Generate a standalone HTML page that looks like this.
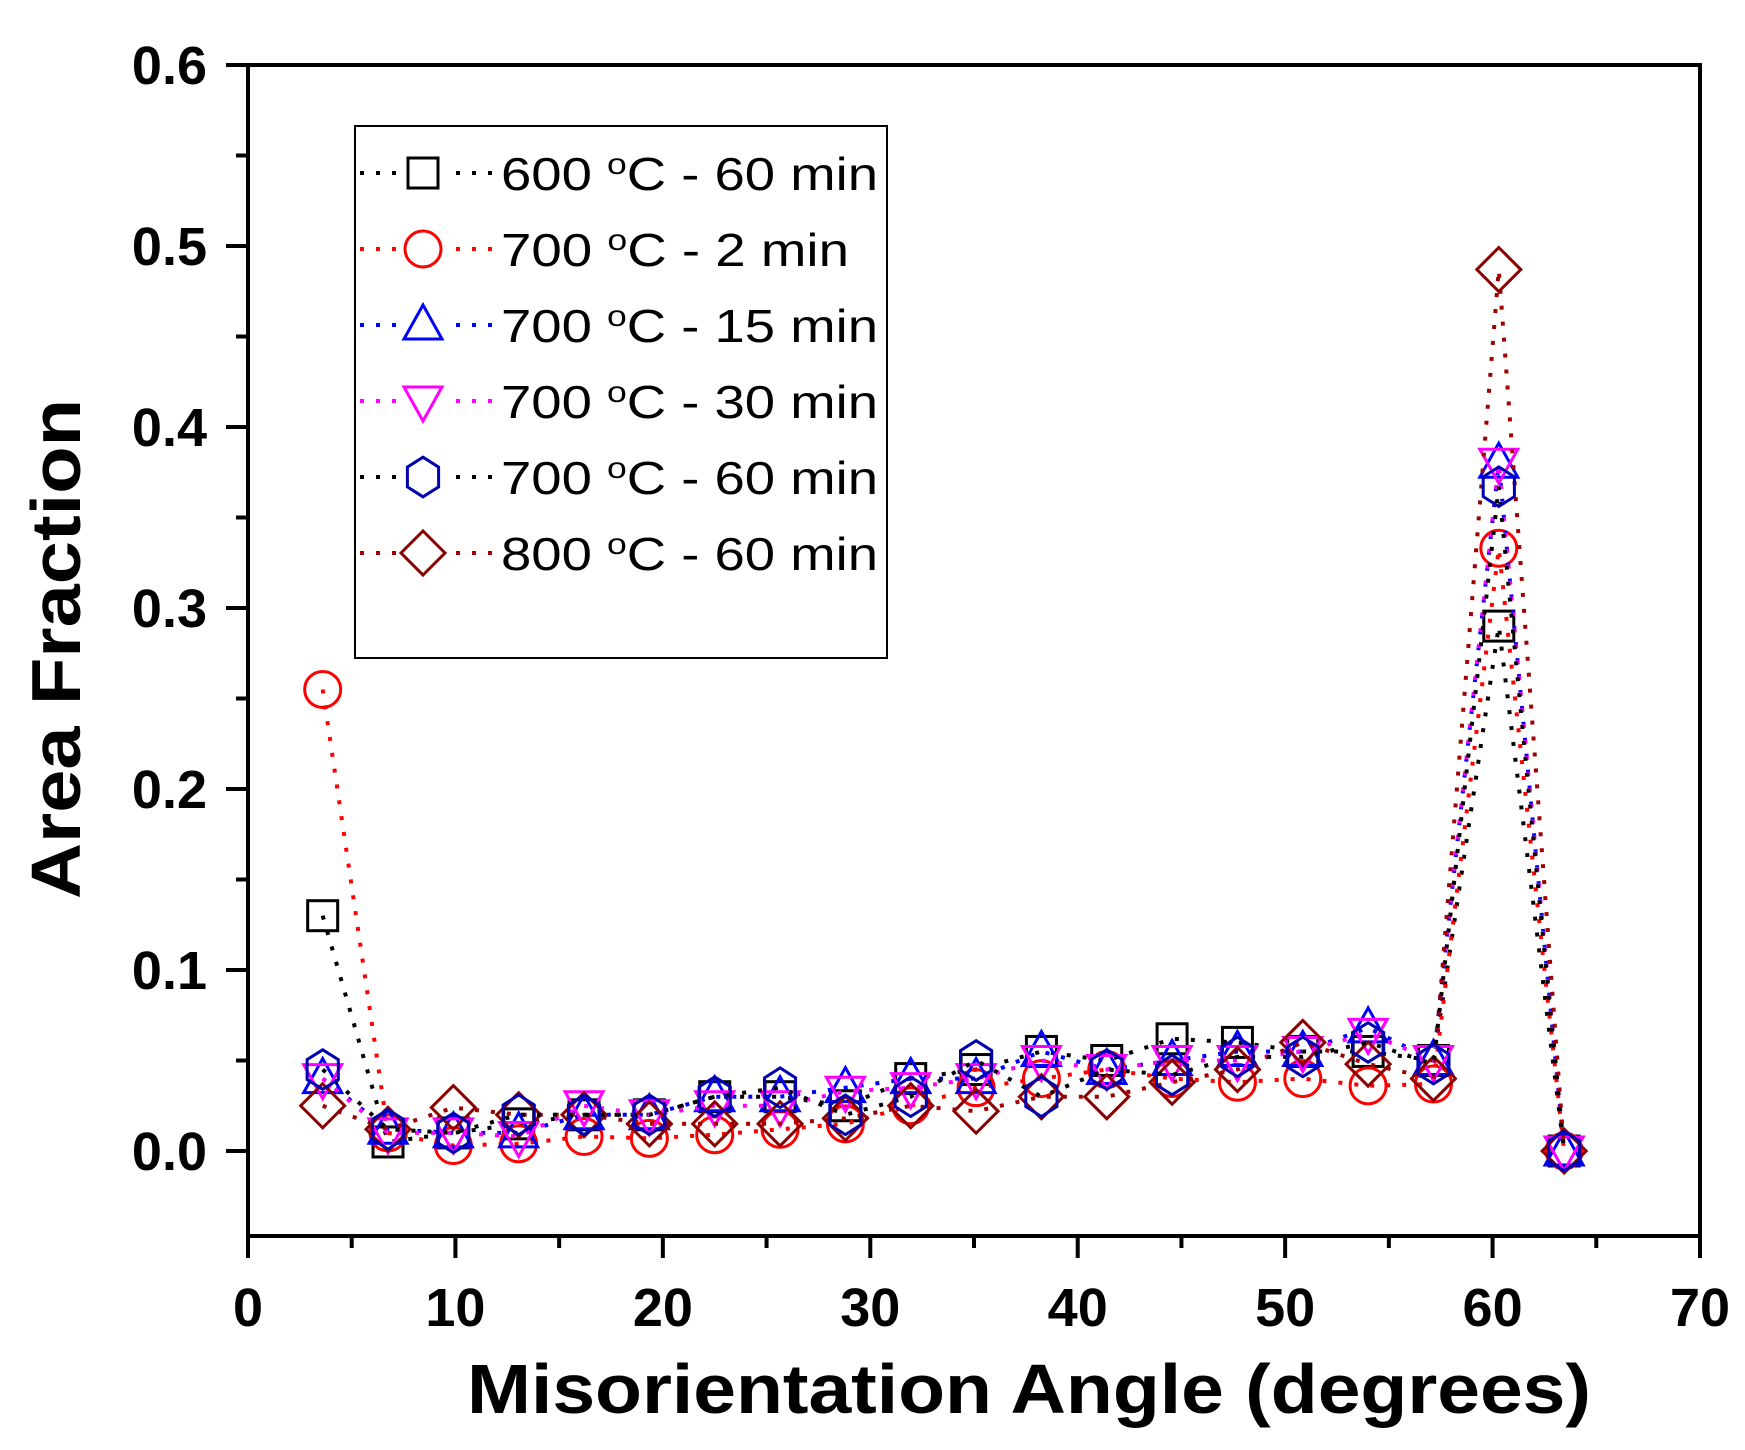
<!DOCTYPE html>
<html><head><meta charset="utf-8"><style>
html,body{margin:0;padding:0;background:#fff;}
svg{display:block;font-family:"Liberation Sans",Arial,sans-serif;}
</style></head><body>
<svg id="chart" width="1745" height="1450" viewBox="0 0 1745 1450" xmlns="http://www.w3.org/2000/svg">
<g id="plot"></g>
</svg>
<script>
const xCenters = [3.6,6.75,9.9,13.05,16.2,19.35,22.5,25.65,28.8,31.95,35.1,38.25,41.4,44.55,47.7,50.85,54.0,57.15,60.3,63.45];
const s600_60 = [0.13,0.005,0.01,0.015,0.02,0.02,0.03,0.03,0.025,0.04,0.045,0.055,0.05,0.062,0.06,0.055,0.055,0.05,0.29,0.0];
const s700_2 = [0.255,0.01,0.003,0.004,0.008,0.007,0.009,0.012,0.015,0.025,0.035,0.04,0.045,0.04,0.038,0.04,0.036,0.037,0.333,0.0];
const s700_15 = [0.04,0.012,0.01,0.01,0.02,0.02,0.03,0.03,0.035,0.04,0.04,0.055,0.045,0.05,0.055,0.055,0.068,0.05,0.38,0.0];
const s700_30 = [0.04,0.01,0.01,0.008,0.025,0.02,0.025,0.025,0.033,0.035,0.04,0.05,0.045,0.05,0.05,0.055,0.065,0.05,0.38,0.0];
const s700_60 = [0.045,0.012,0.01,0.02,0.02,0.02,0.03,0.035,0.02,0.03,0.05,0.03,0.045,0.042,0.052,0.052,0.06,0.048,0.367,0.0];
const s800_60 = [0.025,0.012,0.024,0.02,0.02,0.015,0.015,0.015,0.018,0.025,0.022,0.03,0.03,0.038,0.045,0.06,0.048,0.04,0.487,0.0];
const xTicks = [0,10,20,30,40,50,60,70];
const yTicks = [0.0,0.1,0.2,0.3,0.4,0.5,0.6];

const NS="http://www.w3.org/2000/svg";
const L=248,R=1700,T=65,B=1236;
const xMin=0,xMax=70,y0px=1151,yPer=1810;
function X(v){return L+(v-xMin)/(xMax-xMin)*(R-L);}
function Y(v){return y0px-v*yPer;}
const g=document.getElementById('plot');
function el(tag,attrs,parent){const e=document.createElementNS(NS,tag);for(const k in attrs)e.setAttribute(k,attrs[k]);(parent||g).appendChild(e);return e;}

const frame=el('rect',{x:L,y:T,width:R-L,height:B-T,fill:'none',stroke:'#000','stroke-width':4});



for(let i=0;i<=13;i++){
  const v=-0.05+i*0.05; if(v<-0.04) continue;
  const major=Math.abs(Math.round(v*10)-v*10)<1e-6;
  const t=el('line',{x1:L,x2:L-(major?22:12),y1:Y(v),y2:Y(v),stroke:'#000','stroke-width':4});
  
  
}
yTicks.forEach(v=>{
  const t=el('text',{x:207,y:Y(v)+19,'text-anchor':'end','font-size':54,'font-weight':'bold'});
  t.textContent=v.toFixed(1);
  
  
});
for(let v=0;v<=70;v+=5){
  const major=v%10===0;
  const t=el('line',{x1:X(v),x2:X(v),y1:B,y2:B+(major?22:12),stroke:'#000','stroke-width':4});
  
  
}
xTicks.forEach(v=>{
  const t=el('text',{x:X(v),y:1326,'text-anchor':'middle','font-size':54,'font-weight':'bold'});
  t.textContent=String(v);
  
  
});
const xt=el('text',{x:1029,y:1413,'text-anchor':'middle','font-size':70,'font-weight':'bold',textLength:1124,lengthAdjust:'spacingAndGlyphs'});
xt.textContent='Misorientation Angle (degrees)';


const yt=el('text',{x:0,y:0,'text-anchor':'middle','font-size':70,'font-weight':'bold',transform:'translate(80,649) rotate(-90)',textLength:500,lengthAdjust:'spacingAndGlyphs'});
yt.textContent='Area Fraction';



const S=18;
function marker(type,cx,cy,color,parent){
  let e;
  if(type==='square') e=el('rect',{x:cx-S+3,y:cy-S+3,width:2*S-6,height:2*S-6},parent);
  else if(type==='circle') e=el('circle',{cx:cx,cy:cy,r:S},parent);
  else if(type==='tri') e=el('polygon',{points:`${cx},${cy-S-2} ${cx+S+1},${cy+S-4} ${cx-S-1},${cy+S-4}`},parent);
  else if(type==='itri') e=el('polygon',{points:`${cx},${cy+S+2} ${cx+S+1},${cy-S+4} ${cx-S-1},${cy-S+4}`},parent);
  else if(type==='hex') e=el('polygon',{points:[0,1,2,3,4,5].map(k=>{const a=-Math.PI/2+k*Math.PI/3;return (cx+S*Math.cos(a)).toFixed(1)+','+(cy+S*1.1*Math.sin(a)).toFixed(1);}).join(' ')},parent);
  else e=el('polygon',{points:`${cx},${cy-S-4} ${cx+S+4},${cy} ${cx},${cy+S+4} ${cx-S-4},${cy}`},parent);
  e.setAttribute('fill','none');e.setAttribute('stroke',color);e.setAttribute('stroke-width',3);
  return e;
}
const series=[
 {d:s600_60,m:'square',mc:'#000',lc:'#000',name:'series-600c-60min',lab:['600 ',' - 60 min']},
 {d:s700_2,m:'circle',mc:'#f00',lc:'#f00',name:'series-700c-2min',lab:['700 ',' - 2 min']},
 {d:s700_15,m:'tri',mc:'#00f',lc:'#00f',name:'series-700c-15min',lab:['700 ',' - 15 min']},
 {d:s700_30,m:'itri',mc:'#f0f',lc:'#f0f',name:'series-700c-30min',lab:['700 ',' - 30 min']},
 {d:s800_60,m:'diamond',mc:'#8b0000',lc:'#a00000',name:'series-800c-60min',lab:['800 ',' - 60 min']},
 {d:s700_60,m:'hex',mc:'#0000b0',lc:'#000',name:'series-700c-60min',lab:['700 ',' - 60 min']}
];
series.forEach(s=>{
  const grp=el('g',{});
  
  
  const pts=s.d.map((v,i)=>X(xCenters[i]).toFixed(1)+','+Y(v).toFixed(1)).join(' ');
  const line=el('polyline',{points:pts,fill:'none',stroke:s.lc,'stroke-width':4,'stroke-dasharray':'4 12'},grp);
  
  
  s.d.forEach((v,i)=>{
    const m=marker(s.m,X(xCenters[i]),Y(v),s.mc,grp);
    
    
  });
});

const lg=el('g',{});


el('rect',{x:355,y:126,width:532,height:532,fill:'#fff',stroke:'#000','stroke-width':2},lg);
const order=[0,1,2,3,5,4];
const rowsY=[173,249,325,401,477,553];
order.forEach((si,r)=>{
  const s=series[si];const y=rowsY[r];
  const e=el('g',{},lg);
  
  
  el('line',{x1:360,x2:492,y1:y,y2:y,stroke:s.lc,'stroke-width':4,'stroke-dasharray':'4 12'},e);
  el('rect',{x:398,y:y-25,width:50,height:50,fill:'#fff'},e);
  marker(s.m,423,y,s.mc,e);
  const t=el('text',{x:501,y:y+17,'font-size':46,textLength:si===1?348:377,lengthAdjust:'spacingAndGlyphs'},e);
  t.innerHTML=s.lab[0]+'<tspan dy="-16" font-size="30">o</tspan><tspan dy="16">C</tspan>'+s.lab[1];
});
</script>
</body></html>
